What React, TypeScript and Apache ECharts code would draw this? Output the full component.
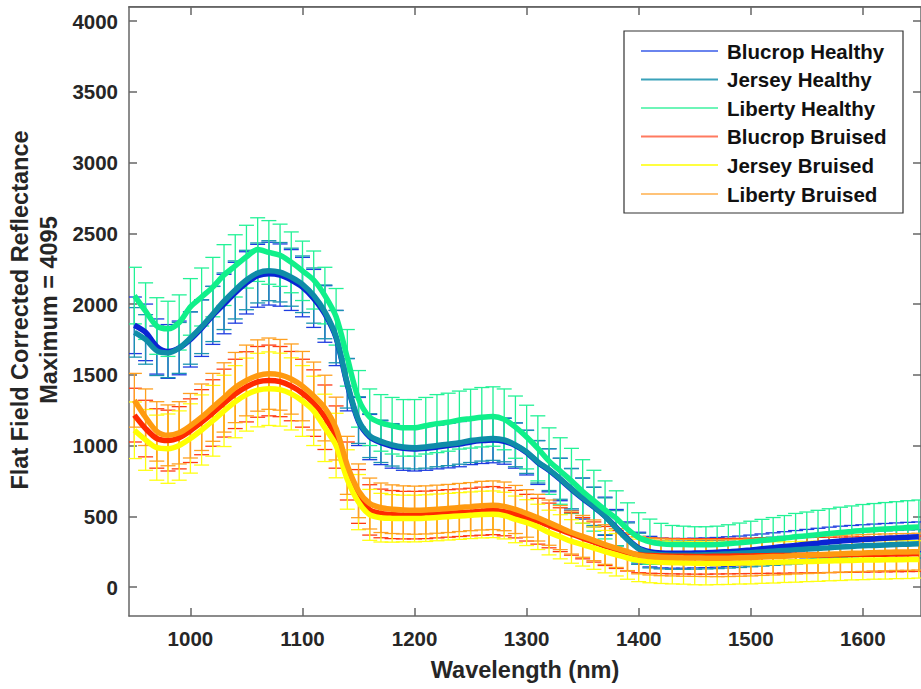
import React, { useEffect, useRef } from "react";
import * as echarts from "echarts";

const wavelengths = [
  950, 960, 970, 980, 990, 1000, 1010, 1020, 1030, 1040,
  1050, 1060, 1070, 1080, 1090, 1100, 1110, 1120, 1130, 1140,
  1150, 1160, 1170, 1180, 1190, 1200, 1210, 1220, 1230, 1240,
  1250, 1260, 1270, 1280, 1290, 1300, 1310, 1320, 1330, 1340,
  1350, 1360, 1370, 1380, 1390, 1400, 1410, 1420, 1430, 1440,
  1450, 1460, 1470, 1480, 1490, 1500, 1510, 1520, 1530, 1540,
  1550, 1560, 1570, 1580, 1590, 1600, 1610, 1620, 1630, 1640, 1650,
];

const seriesNames = [
  "Blucrop Healthy",
  "Jersey Healthy",
  "Liberty Healthy",
  "Blucrop Bruised",
  "Jersey Bruised",
  "Liberty Bruised",
];

const blucropHealthyMean = [
  1850, 1800, 1700, 1665, 1690, 1750, 1830, 1920, 2000, 2080,
  2150, 2200, 2215, 2205, 2170, 2120, 2040, 1930, 1760, 1430,
  1170, 1060, 1020, 995, 980, 975, 980, 990, 1000, 1010,
  1025, 1035, 1040, 1030, 1000, 950, 880, 825, 760, 690,
  625, 565, 500, 420, 340, 275, 250, 240, 238, 238,
  240, 242, 245, 250, 255, 262, 270, 278, 286, 294,
  302, 310, 318, 325, 330, 335, 340, 344, 348, 352, 355,
];
const blucropHealthyStd = [
  200, 200, 195, 190, 190, 195, 200, 205, 210, 215,
  220, 222, 222, 220, 215, 210, 205, 200, 195, 185,
  170, 160, 155, 155, 155, 155, 155, 155, 158, 160,
  160, 162, 162, 162, 160, 158, 155, 152, 150, 148,
  145, 140, 135, 128, 120, 112, 108, 105, 105, 105,
  105, 105, 105, 105, 105, 105, 105, 105, 105, 105,
  105, 105, 105, 105, 105, 105, 105, 105, 105, 105, 105,
];

const jerseyHealthyMean = [
  1800, 1750, 1670, 1655, 1690, 1760, 1840, 1930, 2020, 2100,
  2170, 2220, 2236, 2225, 2190, 2140, 2060, 1945, 1770, 1440,
  1180, 1070, 1030, 1005, 990, 985, 990, 1000, 1010, 1020,
  1035, 1045, 1050, 1040, 1005, 955, 885, 830, 765, 695,
  630, 570, 500, 415, 335, 270, 240, 228, 225, 225,
  226, 228, 230, 234, 238, 243, 248, 253, 258, 263,
  268, 273, 278, 283, 287, 291, 294, 297, 300, 303, 305,
];
const jerseyHealthyStd = [
  175, 175, 175, 175, 180, 185, 190, 195, 200, 205,
  210, 212, 212, 210, 205, 200, 195, 190, 185, 175,
  165, 155, 150, 150, 150, 150, 150, 150, 152, 152,
  155, 155, 155, 155, 155, 152, 150, 148, 145, 142,
  140, 135, 130, 125, 118, 110, 105, 100, 100, 100,
  100, 100, 100, 100, 100, 100, 100, 100, 100, 100,
  100, 100, 100, 100, 100, 100, 100, 100, 100, 100, 100,
];

const libertyHealthyMean = [
  2060, 1950, 1845, 1825, 1870, 1980, 2050, 2120, 2205, 2270,
  2335, 2385, 2365, 2345, 2295, 2235, 2170, 2060, 1910, 1620,
  1330, 1200, 1160, 1140, 1125, 1125, 1140, 1155, 1165, 1180,
  1190, 1200, 1205, 1185, 1130, 1060, 980, 890, 820, 750,
  675, 610, 545, 485, 410, 350, 320, 305, 300, 300,
  298, 298, 300, 305, 312, 320, 328, 336, 345, 355,
  362, 370, 378, 386, 393, 400, 405, 410, 415, 420, 425,
];
const libertyHealthyStd = [
  200, 200, 200, 195, 195, 200, 205, 210, 215, 220,
  222, 225, 225, 220, 215, 210, 205, 200, 200, 200,
  200, 200, 200, 200, 200, 200, 200, 205, 205, 205,
  208, 210, 210, 215, 220, 225, 230, 235, 235, 230,
  225, 215, 205, 195, 185, 175, 160, 145, 135, 130,
  128, 128, 130, 135, 140, 145, 150, 155, 160, 165,
  168, 172, 175, 178, 180, 183, 185, 187, 188, 190, 190,
];

const blucropBruisedMean = [
  1215, 1120, 1050, 1035, 1055, 1105, 1165, 1230, 1300, 1365,
  1415, 1450, 1460, 1452, 1420, 1370, 1300, 1200, 1060, 820,
  640, 545, 520, 512, 508, 508, 510, 515, 520, 525,
  530, 536, 540, 532, 515, 490, 465, 435, 405, 375,
  345, 318, 290, 265, 243, 228, 222, 220, 218, 217,
  216, 216, 217, 218, 219, 220, 221, 222, 223, 224,
  225, 226, 227, 228, 229, 230, 231, 232, 233, 234, 235,
];
const blucropBruisedStd = [
  190, 200, 210, 215, 220, 225, 230, 235, 240, 245,
  248, 250, 250, 248, 245, 240, 235, 228, 220, 205,
  190, 178, 172, 170, 168, 168, 168, 168, 168, 168,
  168, 170, 170, 170, 168, 165, 162, 158, 155, 150,
  146, 142, 138, 134, 130, 127, 125, 125, 125, 125,
  125, 125, 125, 125, 125, 125, 125, 125, 125, 125,
  125, 125, 125, 125, 125, 125, 125, 125, 125, 125, 125,
];

const jerseyBruisedMean = [
  1108, 1040, 985, 978, 1000, 1050, 1110, 1175, 1245, 1310,
  1360, 1392, 1402, 1395, 1365, 1315, 1245, 1125, 1000, 760,
  600, 510, 490, 485, 484, 484, 487, 492, 497, 502,
  507, 512, 514, 505, 478, 455, 425, 385, 355, 322,
  300, 275, 250, 228, 205, 188, 180, 175, 172, 170,
  168, 167, 167, 168, 169, 170, 172, 174, 176, 178,
  180, 182, 184, 186, 188, 190, 191, 192, 193, 194, 195,
];
const jerseyBruisedStd = [
  200, 215, 230, 245, 245, 245, 248, 250, 252, 255,
  258, 260, 260, 258, 255, 250, 245, 238, 228, 210,
  195, 180, 172, 168, 165, 165, 165, 165, 165, 165,
  165, 165, 165, 165, 165, 162, 160, 158, 156, 154,
  152, 150, 150, 150, 150, 150, 150, 150, 150, 150,
  152, 152, 150, 150, 148, 148, 146, 146, 144, 144,
  142, 142, 140, 140, 138, 138, 136, 136, 134, 134, 132,
];

const libertyBruisedMean = [
  1320, 1200, 1100, 1072, 1090, 1140, 1200, 1270, 1340, 1410,
  1460, 1495, 1508, 1500, 1470, 1420, 1350, 1265, 1120, 860,
  680, 590, 560, 550, 545, 543, 545, 550, 555, 562,
  568, 575, 578, 570, 548, 520, 490, 455, 420, 385,
  358, 330, 300, 275, 250, 225, 215, 210, 208, 206,
  205, 204, 203, 204, 206, 208, 212, 215, 218, 222,
  225, 228, 232, 235, 238, 240, 243, 245, 247, 248, 250,
];
const libertyBruisedStd = [
  190, 200, 210, 215, 220, 228, 235, 240, 245, 248,
  250, 252, 252, 250, 248, 245, 240, 232, 222, 205,
  190, 180, 175, 172, 170, 170, 170, 170, 170, 170,
  170, 172, 172, 172, 170, 168, 165, 160, 156, 152,
  148, 144, 140, 137, 134, 132, 130, 130, 130, 130,
  130, 130, 130, 130, 130, 130, 130, 130, 130, 130,
  130, 130, 130, 130, 130, 130, 130, 130, 130, 130, 130,
];

const xTicks = [1000, 1100, 1200, 1300, 1400, 1500, 1600];
const yTicks = [0, 500, 1000, 1500, 2000, 2500, 3000, 3500, 4000];

const lineColors = ["#0a24d4", "#0f8ca8", "#10f08a", "#ff2a00", "#ffff00", "#ff9a10"];
const barColors = ["#1e3ce0", "#1a94b0", "#22f296", "#ff3a14", "#ffff10", "#ffa020"];
const legendColors = ["#6a84ee", "#3aa2ba", "#6ef5b8", "#ff7a60", "#ffff40", "#ffc378"];

const means = [
  blucropHealthyMean,
  jerseyHealthyMean,
  libertyHealthyMean,
  blucropBruisedMean,
  jerseyBruisedMean,
  libertyBruisedMean,
];
const stds = [
  blucropHealthyStd,
  jerseyHealthyStd,
  libertyHealthyStd,
  blucropBruisedStd,
  jerseyBruisedStd,
  libertyBruisedStd,
];

const FONT = "'Liberation Sans', Arial, Helvetica, sans-serif";
const AXIS_COLOR = "#666666";
const TEXT_COLOR = "#262626";

export default function App() {
  const ref = useRef<HTMLDivElement>(null);

  useEffect(() => {
    if (!ref.current) return;
    const chart = echarts.init(ref.current, null, { renderer: "svg" });

    const series: any[] = [];
    seriesNames.forEach((name, k) => {
      const n = Math.min(wavelengths.length, means[k].length, stds[k].length);
      const errData = [];
      const lineData = [];
      for (let i = 0; i < n; i++) {
        errData.push([wavelengths[i], means[k][i], stds[k][i]]);
        lineData.push([wavelengths[i], means[k][i]]);
      }
      series.push({
        type: "custom",
        name: name + " error",
        silent: true,
        clip: true,
        data: errData,
        renderItem: (params: any, api: any) => {
          const x = api.value(0);
          const m = api.value(1);
          const s = api.value(2);
          const top = api.coord([x, m + s]);
          const bot = api.coord([x, m - s]);
          const hw = 7.5;
          const style = { stroke: barColors[k], lineWidth: 1.3 };
          return {
            type: "group",
            children: [
              { type: "line", shape: { x1: top[0], y1: top[1], x2: bot[0], y2: bot[1] }, style },
              { type: "line", shape: { x1: top[0] - hw, y1: top[1], x2: top[0] + hw, y2: top[1] }, style },
              { type: "line", shape: { x1: bot[0] - hw, y1: bot[1], x2: bot[0] + hw, y2: bot[1] }, style },
            ],
          };
        },
      });
      series.push({
        type: "line",
        name,
        silent: true,
        data: lineData,
        showSymbol: false,
        smooth: 0.3,
        lineStyle: { color: lineColors[k], width: 5.5 },
        itemStyle: { color: lineColors[k] },
      });
    });

    const xMin = 945.2;
    const xMax = 1651.9;
    const yMin = -205;
    const yMax = 4100;

    const axisLineStyle = { color: AXIS_COLOR, width: 1.5 };
    const labelStyle = {
      fontSize: 20.5,
      fontWeight: "bold" as const,
      color: TEXT_COLOR,
      fontFamily: FONT,
    };

    const legendLeft = 624;
    const legendTop = 31;
    const rowYs = [51, 79.5, 108, 136.5, 165, 194];
    const legendChildren: any[] = [
      {
        type: "rect",
        shape: { x: legendLeft, y: legendTop, width: 279, height: 182 },
        style: { fill: "#ffffff", stroke: "#333333", lineWidth: 1.2 },
      },
    ];
    seriesNames.forEach((name, k) => {
      legendChildren.push({
        type: "line",
        shape: { x1: 641, y1: rowYs[k], x2: 718, y2: rowYs[k] },
        style: { stroke: legendColors[k], lineWidth: 1.8 },
      });
      legendChildren.push({
        type: "text",
        x: 727,
        y: rowYs[k],
        style: {
          text: name,
          fontSize: 20.5,
          fontWeight: "bold",
          fontFamily: FONT,
          fill: "#111111",
          textAlign: "left",
          textVerticalAlign: "middle",
        },
      });
    });

    chart.setOption({
      animation: false,
      backgroundColor: "#ffffff",
      grid: { left: 129, top: 7, right: -3, bottom: 73 },
      xAxis: [
        {
          type: "value",
          position: "bottom",
          min: xMin,
          max: xMax,
          axisLine: { show: true, onZero: false, lineStyle: axisLineStyle },
          axisTick: { show: true, inside: true, length: 8, customValues: xTicks, lineStyle: axisLineStyle },
          axisLabel: {
            ...labelStyle,
            customValues: xTicks,
            margin: 12,
            formatter: (v: number) => String(v),
          },
          splitLine: { show: false },
          name: "Wavelength (nm)",
          nameLocation: "middle",
          nameGap: 42,
          nameTextStyle: {
            fontSize: 23.5,
            fontWeight: "bold",
            color: TEXT_COLOR,
            fontFamily: FONT,
            verticalAlign: "top",
          },
        },
        {
          type: "value",
          position: "top",
          min: xMin,
          max: xMax,
          axisLine: { show: true, onZero: false, lineStyle: axisLineStyle },
          axisTick: { show: true, inside: true, length: 8, customValues: xTicks, lineStyle: axisLineStyle },
          axisLabel: { show: false },
          splitLine: { show: false },
        },
      ],
      yAxis: [
        {
          type: "value",
          position: "left",
          min: yMin,
          max: yMax,
          axisLine: { show: true, onZero: false, lineStyle: axisLineStyle },
          axisTick: { show: true, inside: true, length: 8, customValues: yTicks, lineStyle: axisLineStyle },
          axisLabel: {
            ...labelStyle,
            customValues: yTicks,
            margin: 11,
            formatter: (v: number) => String(v),
          },
          splitLine: { show: false },
        },
        {
          type: "value",
          position: "right",
          min: yMin,
          max: yMax,
          axisLine: { show: true, onZero: false, lineStyle: axisLineStyle },
          axisTick: { show: true, inside: true, length: 8, customValues: yTicks, lineStyle: axisLineStyle },
          axisLabel: { show: false },
          splitLine: { show: false },
        },
      ],
      series,
      graphic: [
        {
          type: "text",
          x: 20,
          y: 310,
          rotation: Math.PI / 2,
          style: {
            text: "Flat Field Corrected Reflectance",
            fontSize: 23.5,
            fontWeight: "bold",
            fontFamily: FONT,
            fill: TEXT_COLOR,
            textAlign: "center",
            textVerticalAlign: "middle",
          },
        },
        {
          type: "text",
          x: 49,
          y: 310,
          rotation: Math.PI / 2,
          style: {
            text: "Maximum = 4095",
            fontSize: 23.5,
            fontWeight: "bold",
            fontFamily: FONT,
            fill: TEXT_COLOR,
            textAlign: "center",
            textVerticalAlign: "middle",
          },
        },
        {
          type: "rect",
          z: 50,
          shape: { x: 128.5, y: 6, width: 800, height: 1.6 },
          style: { fill: AXIS_COLOR },
        },
        { type: "group", children: legendChildren, z: 100 },
      ],
    });

    return () => {
      chart.dispose();
    };
  }, []);

  return (
    <div
      ref={ref}
      style={{ position: "fixed", left: 0, top: 0, width: 921, height: 689, background: "#fff" }}
    />
  );
}
